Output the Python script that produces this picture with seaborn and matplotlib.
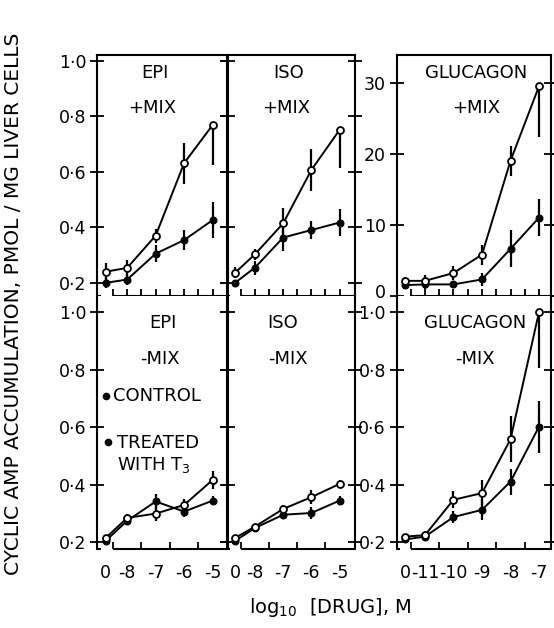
import numpy as np
import pandas as pd
import matplotlib
matplotlib.use("Agg")
import matplotlib.pyplot as plt
import matplotlib.transforms as mtransforms
import seaborn as sns

# ── Données ──────────────────────────────────────────────────────────────────
# doses : log10 [DRUG] (M), "0" = sans agoniste
ADR_DOSES = ["0", "-8", "-7", "-6", "-5"]
GLU_DOSES = ["0", "-11", "-10", "-9", "-8", "-7"]

# +MIX (rangée du haut)
epi_mix_ctrl = [0.24, 0.254, 0.37, 0.631, 0.768]
epi_mix_ctrl_dn = [0.03, 0.03, 0.025, 0.074, 0.144]
epi_mix_ctrl_up = [0.03, 0.03, 0.025, 0.074, 0.0]
epi_mix_t3 = [0.20, 0.212, 0.305, 0.354, 0.426]
epi_mix_t3_err = [0.02, 0.02, 0.03, 0.035, 0.066]

iso_mix_ctrl = [0.236, 0.303, 0.414, 0.606, 0.75]
iso_mix_ctrl_dn = [0.02, 0.02, 0.054, 0.075, 0.138]
iso_mix_ctrl_up = [0.02, 0.02, 0.054, 0.075, 0.0]
iso_mix_t3 = [0.20, 0.255, 0.363, 0.39, 0.417]
iso_mix_t3_err = [0.01, 0.025, 0.048, 0.033, 0.05]

glu_mix_ctrl = [2.2, 2.2, 3.3, 5.9, 19.1, 29.6]
glu_mix_ctrl_dn = [0.6, 0.8, 1.0, 1.4, 2.1, 7.1]
glu_mix_ctrl_up = [0.6, 0.8, 1.0, 1.4, 2.1, 0.0]
glu_mix_t3 = [1.6, 1.7, 1.7, 2.4, 6.7, 11.1]
glu_mix_t3_err = [0.5, 0.6, 0.5, 0.9, 2.6, 2.6]

# -MIX (rangée du bas)
epi_nomix_ctrl = [0.215, 0.285, 0.30, 0.33, 0.417]
epi_nomix_ctrl_dn = [0.01, 0.015, 0.025, 0.02, 0.03]
epi_nomix_ctrl_up = [0.01, 0.015, 0.025, 0.02, 0.03]
epi_nomix_t3 = [0.205, 0.275, 0.342, 0.307, 0.345]
epi_nomix_t3_err = [0.01, 0.015, 0.025, 0.02, 0.015]

iso_nomix_ctrl = [0.215, 0.255, 0.316, 0.357, 0.403]
iso_nomix_ctrl_dn = [0.01, 0.01, 0.015, 0.025, 0.015]
iso_nomix_ctrl_up = [0.01, 0.01, 0.015, 0.025, 0.015]
iso_nomix_t3 = [0.205, 0.25, 0.296, 0.302, 0.345]
iso_nomix_t3_err = [0.01, 0.01, 0.015, 0.02, 0.015]

glu_nomix_ctrl = [0.22, 0.225, 0.348, 0.371, 0.558, 1.0]
glu_nomix_ctrl_dn = [0.01, 0.015, 0.03, 0.045, 0.08, 0.195]
glu_nomix_ctrl_up = [0.01, 0.015, 0.03, 0.045, 0.08, 0.0]
glu_nomix_t3 = [0.21, 0.22, 0.288, 0.313, 0.411, 0.602]
glu_nomix_t3_err = [0.01, 0.015, 0.02, 0.035, 0.045, 0.09]

Y_ADR_TICKS = [0.2, 0.4, 0.6, 0.8, 1.0]
Y_GLU_TICKS = [0, 10, 20, 30]

sns.set_theme(style="ticks")
plt.rcParams["font.family"] = ["DejaVu Sans"]
plt.rcParams["mathtext.default"] = "regular"
plt.rcParams["text.color"] = "black"
plt.rcParams["xtick.color"] = "black"
plt.rcParams["ytick.color"] = "black"
plt.rcParams["xtick.labelcolor"] = "black"
plt.rcParams["ytick.labelcolor"] = "black"

FS = 12.5
FS_TITLE = 13
LW = 1.4

fig = plt.figure(figsize=(5.54, 6.28), dpi=100)

# positions des cadres (fraction de figure)
cols = [(0.1756, 0.2350), (0.4107, 0.2301), (0.7166, 0.2780)]
rows = [(0.5279, 0.3846), (0.1258, 0.4021)]

panels = [
    # (ligne, colonne, doses, zero_x, xlim, ylim, ctrl, dn, up, t3, err, titre, mix)
    (0, 0, ADR_DOSES, -8.76, (-9.05, -4.48), (0.151, 1.02),
     epi_mix_ctrl, epi_mix_ctrl_dn, epi_mix_ctrl_up, epi_mix_t3, epi_mix_t3_err, "EPI", "+MIX"),
    (0, 1, ADR_DOSES, -8.71, (-8.975, -4.45), (0.151, 1.02),
     iso_mix_ctrl, iso_mix_ctrl_dn, iso_mix_ctrl_up, iso_mix_t3, iso_mix_t3_err, "ISO", "+MIX"),
    (0, 2, GLU_DOSES, -11.7, (-11.98, -6.58), (0, 34.0),
     glu_mix_ctrl, glu_mix_ctrl_dn, glu_mix_ctrl_up, glu_mix_t3, glu_mix_t3_err, "GLUCAGON", "+MIX"),
    (1, 0, ADR_DOSES, -8.76, (-9.05, -4.48), (0.177, 1.054),
     epi_nomix_ctrl, epi_nomix_ctrl_dn, epi_nomix_ctrl_up, epi_nomix_t3, epi_nomix_t3_err, "EPI", "-MIX"),
    (1, 1, ADR_DOSES, -8.71, (-8.975, -4.45), (0.177, 1.054),
     iso_nomix_ctrl, iso_nomix_ctrl_dn, iso_nomix_ctrl_up, iso_nomix_t3, iso_nomix_t3_err, "ISO", "-MIX"),
    (1, 2, GLU_DOSES, -11.7, (-11.98, -6.58), (0.177, 1.054),
     glu_nomix_ctrl, glu_nomix_ctrl_dn, glu_nomix_ctrl_up, glu_nomix_t3, glu_nomix_t3_err, "GLUCAGON", "-MIX"),
]

# placement des titres (fraction d'axe)
title_pos = {
    (0, 0): ((0.443, 0.925), (0.42, 0.78)),
    (0, 1): ((0.477, 0.925), (0.459, 0.78)),
    (0, 2): ((0.513, 0.925), (0.517, 0.78)),
    (1, 0): ((0.505, 0.895), (0.48, 0.752)),
    (1, 1): ((0.436, 0.895), (0.477, 0.752)),
    (1, 2): ((0.506, 0.895), (0.506, 0.752)),
}

for (r, c, doses, zero_x, xlim, ylim, ctrl, dn, up, t3, err, title, mix) in panels:
    left, width = cols[c]
    bottom, height = rows[r]
    ax = fig.add_axes([left, bottom, width, height])

    pos = [zero_x] + [float(d) for d in doses[1:]]
    df_c = pd.DataFrame({"x": pos, "y": ctrl})
    df_t = pd.DataFrame({"x": pos, "y": t3})

    # barres d'erreur (verticales, sans chapeau)
    ax.vlines(pos, np.array(t3) - np.array(err), np.array(t3) + np.array(err),
              color="black", lw=1.6, zorder=1.5)
    ax.vlines(pos, np.array(ctrl) - np.array(dn), np.array(ctrl) + np.array(up),
              color="black", lw=1.6, zorder=1.5)

    sns.lineplot(data=df_t, x="x", y="y", ax=ax, color="black", lw=LW,
                 marker="o", markersize=5, markerfacecolor="black",
                 markeredgecolor="black", legend=False)
    sns.lineplot(data=df_c, x="x", y="y", ax=ax, color="black", lw=LW,
                 marker="o", markersize=5, markerfacecolor="white",
                 markeredgecolor="black", markeredgewidth=1.3, legend=False)

    ax.set_xlim(*xlim)
    ax.set_ylim(*ylim)
    ax.set_xlabel("")
    ax.set_ylabel("")

    for side in ["left", "right", "top"]:
        ax.spines[side].set_color("black")
        ax.spines[side].set_linewidth(1.5)
    if r == 1:
        ax.spines["top"].set_visible(False)

    # axe des x interrompu après la dose nulle
    ax.spines["bottom"].set_visible(False)
    first_int = float(doses[1])
    gap = (zero_x - 0.17, first_int - 0.5)
    tr = ax.get_xaxis_transform()
    ax.plot([xlim[0], gap[0]], [0, 0], transform=tr, color="black", lw=1.5,
            clip_on=False, solid_capstyle="butt")
    ax.plot([gap[1], xlim[1]], [0, 0], transform=tr, color="black", lw=1.5,
            clip_on=False, solid_capstyle="butt")

    minor = np.arange(first_int - 0.5, float(doses[-1]) + 0.01, 0.5)
    ax.set_xticks(minor, minor=True)
    ax.tick_params(axis="x", which="minor", direction="in", length=5, width=1.3,
                   bottom=True, top=False, color="black")
    if r == 1:
        ax.set_xticks(pos)
        ax.set_xticklabels(doses, fontsize=FS)
        ax.tick_params(axis="x", which="major", length=0, pad=11)
    else:
        ax.set_xticks([])

    # axe des y
    glu_top = (r == 0 and c == 2)
    yt = Y_GLU_TICKS if glu_top else Y_ADR_TICKS
    ax.set_yticks(yt)
    if glu_top:
        ax.set_yticklabels([str(v) for v in yt], fontsize=FS)
    else:
        ax.set_yticklabels([f"{v:.1f}".replace(".", "·") for v in yt], fontsize=FS)
    ax.tick_params(axis="y", which="both", left=True, right=True, direction="inout",
                   length=10, width=1.3, color="black", pad=3)
    if c == 1:
        ax.tick_params(axis="y", labelleft=False)
    if glu_top:
        # le « 0 » remonte un peu pour ne pas chevaucher le « 1·0 » du dessous
        lab0 = ax.get_yticklabels()[0]
        lab0.set_transform(lab0.get_transform()
                           + mtransforms.ScaledTranslation(0, 4 / 72, fig.dpi_scale_trans))

    (tx, ty), (mx, my) = title_pos[(r, c)]
    ax.text(tx, ty, title, transform=ax.transAxes, ha="center", va="center", fontsize=FS_TITLE)
    ax.text(mx, my, mix, transform=ax.transAxes, ha="center", va="center", fontsize=FS_TITLE)

    if r == 1 and c == 0:
        ax.plot([0.067], [0.606], "o", color="black", ms=4.5, transform=ax.transAxes)
        ax.text(0.12, 0.606, "CONTROL", transform=ax.transAxes, ha="left", va="center",
                fontsize=FS_TITLE)
        ax.plot([0.085], [0.425], "o", color="black", ms=4.5, transform=ax.transAxes)
        ax.text(0.151, 0.42, "TREATED", transform=ax.transAxes, ha="left", va="center",
                fontsize=FS_TITLE)
        ax.text(0.151, 0.333, "WITH T$_3$", transform=ax.transAxes, ha="left", va="center",
                fontsize=FS_TITLE)

fig.text(0.025, 0.517, "CYCLIC AMP ACCUMULATION, PMOL / MG LIVER CELLS",
         rotation=90, ha="center", va="center", fontsize=14.5)
fig.text(0.596, 0.032, "log$_{10}$  [DRUG], M", ha="center", va="center", fontsize=14)

fig.savefig("out.png", dpi=100)
